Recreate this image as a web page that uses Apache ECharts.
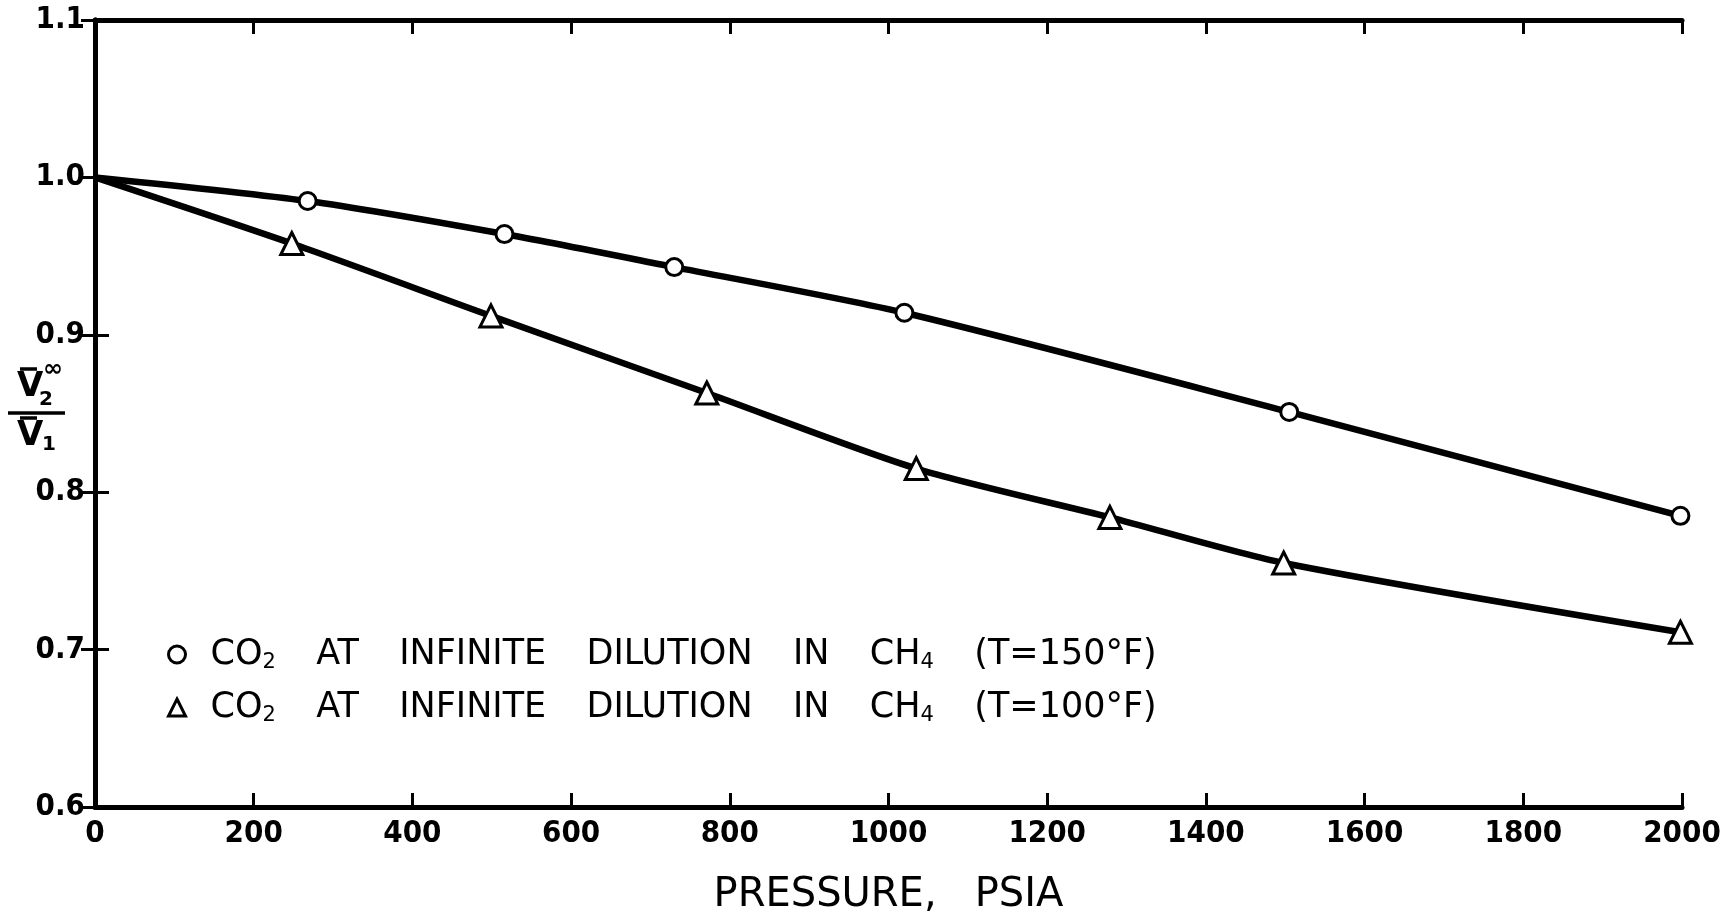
<!DOCTYPE html>
<html>
<head>
<meta charset="utf-8">
<script src="https://cdn.jsdelivr.net/npm/echarts@6/dist/echarts.min.js"></script>
<style>
html,body{margin:0;padding:0;background:#fff;}
#chart{width:1733px;height:915px;}
</style>
</head>
<body>
<div id="chart"></div>
<script>
// ---- data ----
const xTicks = [0, 200, 400, 600, 800, 1000, 1200, 1400, 1600, 1800, 2000];
const yTicks = [0.6, 0.7, 0.8, 0.9, 1.0, 1.1];

// T = 150 °F (circles); first point is the common origin of both curves
const pressure150 = [0, 268, 516, 730, 1020, 1505, 1998];
const ratio150    = [1.0, 0.985, 0.964, 0.943, 0.914, 0.851, 0.785];

// T = 100 °F (triangles)
const pressure100 = [0, 248, 499, 771, 1035, 1279, 1498, 1998];
const ratio100    = [1.0, 0.958, 0.912, 0.863, 0.815, 0.784, 0.755, 0.711];

const seriesNames = ['T=150°F', 'T=100°F'];

const pts150 = pressure150.map((p, i) => [p, ratio150[i]]);
const pts100 = pressure100.map((p, i) => [p, ratio100[i]]);

const chart = echarts.init(document.getElementById('chart'));
const FONT = 'DejaVu Sans';
const NARROW = '"DejaVu Sans Condensed", "DejaVu Sans", sans-serif';
const AXW = 5;
const GAP = '   \u2009';

const legendText = (t) =>
  '{t|CO}{s|2}{t|' + GAP + 'AT' + GAP + 'INFINITE' + GAP + 'DILUTION' + GAP + 'IN' + GAP + 'CH}{s|4}{t|' + GAP + '(T=' + t + ')}';

const option = {
  animation: false,
  backgroundColor: '#fff',
  grid: { left: 95, right: 51, top: 20, bottom: 108, containLabel: false, outerBoundsMode: 'none' },
  xAxis: [
    {
      type: 'value', min: 0, max: 2000, interval: 200, position: 'bottom',
      name: 'PRESSURE,   PSIA', nameLocation: 'middle', nameGap: 69,
      nameTextStyle: { fontFamily: FONT, fontSize: 40, color: '#000' },
      axisLine: { show: true, lineStyle: { color: '#000', width: AXW } },
      axisTick: { show: true, inside: true, length: 14, lineStyle: { color: '#000', width: 3 } },
      axisLabel: { fontFamily: NARROW, fontWeight: 'bold', fontSize: 31, color: '#000', margin: 11,
        formatter: (v) => String(v) },
      splitLine: { show: false }
    },
    {
      type: 'value', min: 0, max: 2000, interval: 200, position: 'top',
      axisLine: { show: true, lineStyle: { color: '#000', width: AXW } },
      axisTick: { show: true, inside: true, length: 14, lineStyle: { color: '#000', width: 3 } },
      axisLabel: { show: false },
      splitLine: { show: false }
    }
  ],
  yAxis: [
    {
      type: 'value', min: 0.6, max: 1.1, interval: 0.1, position: 'left',
      axisLine: { show: true, lineStyle: { color: '#000', width: AXW } },
      axisTick: { show: true, inside: true, length: 14, lineStyle: { color: '#000', width: 3 } },
      axisLabel: { fontFamily: NARROW, fontWeight: 'bold', fontSize: 31, color: '#000', margin: 10,
        formatter: (v) => {
          const t = yTicks.find(y => Math.abs(y - v) < 1e-6);
          return t === undefined ? '' : t.toFixed(1);
        } },
      splitLine: { show: false }
    },
    {
      type: 'value', min: 0.6, max: 1.1, interval: 0.1, position: 'right',
      axisLine: { show: true, lineStyle: { color: '#000', width: AXW } },
      axisTick: { show: true, inside: true, length: 14, lineStyle: { color: '#000', width: 3 } },
      axisLabel: { show: false },
      splitLine: { show: false }
    }
  ],
  legend: {
    orient: 'vertical', left: 162, top: 632, itemGap: 17,
    itemWidth: 17, itemHeight: 17,
    data: [
      { name: seriesNames[0], icon: 'circle',
        itemStyle: { color: '#fff', borderColor: '#000', borderWidth: 3 } },
      { name: seriesNames[1], icon: 'triangle',
        itemStyle: { color: '#fff', borderColor: '#000', borderWidth: 3 } }
    ],
    formatter: (name) => legendText(name.replace('T=', '')),
    textStyle: {
      padding: [0, 0, 0, 20],
      rich: {
        t: { fontFamily: FONT, fontSize: 35, color: '#000' },
        s: { fontFamily: FONT, fontSize: 21, color: '#000', verticalAlign: 'bottom', padding: [16, 0, 0, 0] }
      }
    }
  },
  graphic: [
    // y-axis name: V2-bar-inf / V1-bar
    { type: 'text', left: 17, top: 370, style: { text: 'V', font: 'bold 34px "DejaVu Sans"', fill: '#000' } },
    { type: 'text', left: 39, top: 390, style: { text: '2', font: 'bold 20px "DejaVu Sans"', fill: '#000' } },
    { type: 'text', left: 43, top: 358, style: { text: '∞', font: 'bold 24px "DejaVu Sans"', fill: '#000' } },
    { type: 'line', shape: { x1: 20, y1: 369, x2: 37, y2: 369 }, style: { stroke: '#000', lineWidth: 3.5 } },
    { type: 'line', shape: { x1: 8, y1: 413, x2: 65, y2: 413 }, style: { stroke: '#000', lineWidth: 3.5 } },
    { type: 'text', left: 17, top: 419, style: { text: 'V', font: 'bold 34px "DejaVu Sans"', fill: '#000' } },
    { type: 'text', left: 42, top: 435, style: { text: '1', font: 'bold 20px "DejaVu Sans"', fill: '#000' } },
    { type: 'line', shape: { x1: 20, y1: 418, x2: 37, y2: 418 }, style: { stroke: '#000', lineWidth: 3.5 } }
  ],
  series: [
    {
      type: 'line', data: pts150, smooth: 0.25, symbol: 'none', silent: true,
      lineStyle: { color: '#000', width: 6.5 }, z: 2
    },
    {
      type: 'line', data: pts100, smooth: 0.25, symbol: 'none', silent: true,
      lineStyle: { color: '#000', width: 6.5 }, z: 2
    },
    {
      name: seriesNames[0], type: 'scatter', data: pts150.slice(1),
      symbol: 'circle', symbolSize: 17,
      itemStyle: { color: '#fff', borderColor: '#000', borderWidth: 3, opacity: 1 }, z: 5
    },
    {
      name: seriesNames[1], type: 'scatter', data: pts100.slice(1),
      symbol: 'triangle', symbolSize: 22,
      itemStyle: { color: '#fff', borderColor: '#000', borderWidth: 3, opacity: 1 }, z: 5
    }
  ]
};
chart.setOption(option);
</script>
</body>
</html>
